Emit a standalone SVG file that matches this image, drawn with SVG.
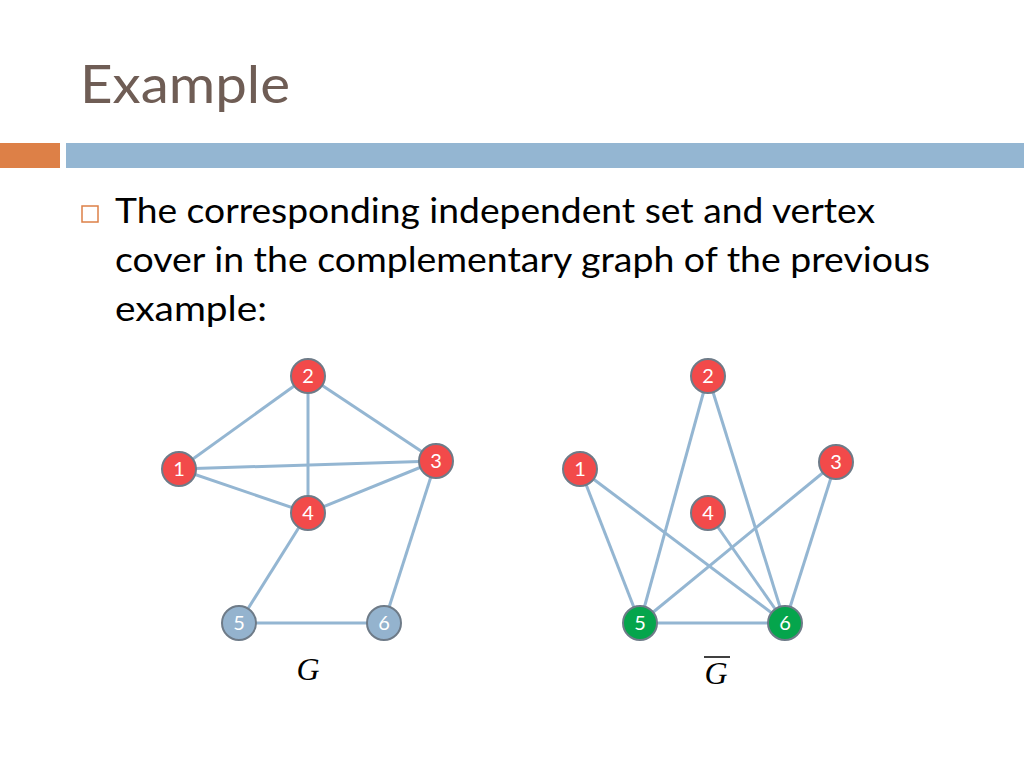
<svg xmlns="http://www.w3.org/2000/svg" width="1024" height="768" viewBox="0 0 1024 768">
<style>
.edge{stroke:#94B6D2;stroke-width:3;fill:none}
.red{fill:#F24A4A;stroke:#6E7B88;stroke-width:2}
.blue{fill:#94B3CE;stroke:#6E7B88;stroke-width:2}
.green{fill:#05A54C;stroke:#6E7B88;stroke-width:2}
.lbl{font-family:Lato,"Liberation Sans",sans-serif;font-size:20px;fill:#fff;text-anchor:middle}
.body{font-family:Lato,"Liberation Sans",sans-serif;font-size:35px;fill:#000}
.gl{font-family:"Liberation Serif",serif;font-style:italic;font-size:32px;fill:#000;text-anchor:middle}
</style>
<rect width="1024" height="768" fill="#fff"/>
<text x="80" y="103" font-family="Lato,'Liberation Sans',sans-serif" font-size="53" fill="#6F5D55" textLength="210" lengthAdjust="spacingAndGlyphs">Example</text>
<rect x="0" y="143" width="60" height="25" fill="#DD8047"/>
<rect x="66" y="143" width="958" height="25" fill="#94B6D2"/>
<rect x="82" y="206" width="16" height="16" fill="none" stroke="#DD8047" stroke-width="1.5"/>
<text class="body" x="115" y="223" textLength="760" lengthAdjust="spacingAndGlyphs">The corresponding independent set and vertex</text>
<text class="body" x="115" y="272" textLength="815" lengthAdjust="spacingAndGlyphs">cover in the complementary graph of the previous</text>
<text class="body" x="115" y="321" textLength="152" lengthAdjust="spacingAndGlyphs">example:</text>
<g id="connectors">
<line class="edge" x1="179" y1="469" x2="308" y2="376"/>
<line class="edge" x1="308" y1="376" x2="436" y2="461"/>
<line class="edge" x1="308" y1="376" x2="308" y2="513"/>
<line class="edge" x1="179" y1="469" x2="436" y2="461"/>
<line class="edge" x1="179" y1="469" x2="308" y2="513"/>
<line class="edge" x1="436" y1="461" x2="308" y2="513"/>
<line class="edge" x1="308" y1="513" x2="239" y2="623"/>
<line class="edge" x1="436" y1="461" x2="384" y2="623"/>
<line class="edge" x1="239" y1="623" x2="384" y2="623"/>
<line class="edge" x1="580" y1="469" x2="640" y2="623"/>
<line class="edge" x1="580" y1="469" x2="785" y2="623"/>
<line class="edge" x1="708" y1="376" x2="640" y2="623"/>
<line class="edge" x1="708" y1="376" x2="785" y2="623"/>
<line class="edge" x1="836" y1="462" x2="640" y2="623"/>
<line class="edge" x1="836" y1="462" x2="785" y2="623"/>
<line class="edge" x1="708" y1="513" x2="785" y2="623"/>
<line class="edge" x1="640" y1="623" x2="785" y2="623"/>
</g>
<g id="g-n1"><circle class="red" cx="179" cy="469" r="17"/><text class="lbl" x="179" y="476">1</text></g>
<g id="g-n2"><circle class="red" cx="308" cy="376" r="17"/><text class="lbl" x="308" y="383">2</text></g>
<g id="g-n3"><circle class="red" cx="436" cy="461" r="17"/><text class="lbl" x="436" y="468">3</text></g>
<g id="g-n4"><circle class="red" cx="308" cy="513" r="17"/><text class="lbl" x="308" y="520">4</text></g>
<g id="g-n5"><circle class="blue" cx="239" cy="623" r="17"/><text class="lbl" x="239" y="630">5</text></g>
<g id="g-n6"><circle class="blue" cx="384" cy="623" r="17"/><text class="lbl" x="384" y="630">6</text></g>
<g id="gc-n1"><circle class="red" cx="580" cy="469" r="17"/><text class="lbl" x="580" y="476">1</text></g>
<g id="gc-n2"><circle class="red" cx="708" cy="376" r="17"/><text class="lbl" x="708" y="383">2</text></g>
<g id="gc-n3"><circle class="red" cx="836" cy="462" r="17"/><text class="lbl" x="836" y="469">3</text></g>
<g id="gc-n4"><circle class="red" cx="708" cy="513" r="17"/><text class="lbl" x="708" y="520">4</text></g>
<g id="gc-n5"><circle class="green" cx="640" cy="623" r="17"/><text class="lbl" x="640" y="630">5</text></g>
<g id="gc-n6"><circle class="green" cx="785" cy="623" r="17"/><text class="lbl" x="785" y="630">6</text></g>
<g id="label-G"><text class="gl" x="308" y="680">G</text></g>
<g id="label-Gbar"><text class="gl" x="716" y="684">G</text><line x1="704" y1="657" x2="730" y2="657" stroke="#000" stroke-width="1.5"/></g>
</svg>
